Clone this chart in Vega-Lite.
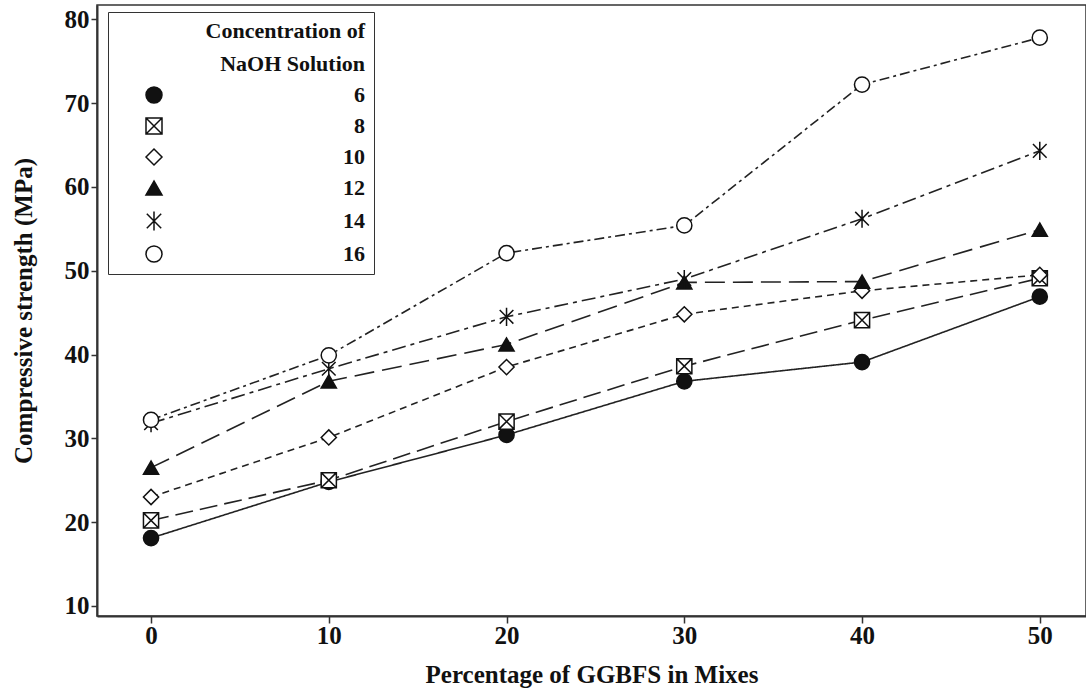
{
  "$schema": "https://vega.github.io/schema/vega-lite/v6.json",
  "autosize": "none",
  "padding": {"left": 97, "top": 5, "right": 0, "bottom": 77},
  "width": 989,
  "height": 611,
  "background": "white",
  "config": {
    "font": "Liberation Serif",
    "view": {"stroke": "#333", "strokeWidth": 1.5},
    "legend": {
      "orient": "none", "legendX": 11, "legendY": 7,
      "titleFont": "Liberation Serif", "titleFontWeight": "bold", "titleFontSize": 22, "titleColor": "#111",
      "titleAnchor": "end", "titleAlign": "right", "titleLineHeight": 33, "titlePadding": 8,
      "labelFont": "Liberation Serif", "labelFontWeight": "bold", "labelFontSize": 22, "labelColor": "#111",
      "labelAlign": "right", "labelOffset": 200,
      "symbolSize": 256, "symbolOffset": 26, "symbolStrokeWidth": 1.5,
      "rowPadding": 9, "padding": 9,
      "strokeColor": "#333", "fillColor": "white"
    }
  },
  "data": {
    "values": [
      {"pct": 0, "cs": 18.1, "c": "6"}, {"pct": 10, "cs": 24.8, "c": "6"}, {"pct": 20, "cs": 30.4, "c": "6"}, {"pct": 30, "cs": 36.8, "c": "6"}, {"pct": 40, "cs": 39.1, "c": "6"}, {"pct": 50, "cs": 46.9, "c": "6"},
      {"pct": 0, "cs": 20.2, "c": "8"}, {"pct": 10, "cs": 25.0, "c": "8"}, {"pct": 20, "cs": 32.0, "c": "8"}, {"pct": 30, "cs": 38.6, "c": "8"}, {"pct": 40, "cs": 44.1, "c": "8"}, {"pct": 50, "cs": 49.1, "c": "8"},
      {"pct": 0, "cs": 23.0, "c": "10"}, {"pct": 10, "cs": 30.1, "c": "10"}, {"pct": 20, "cs": 38.5, "c": "10"}, {"pct": 30, "cs": 44.8, "c": "10"}, {"pct": 40, "cs": 47.6, "c": "10"}, {"pct": 50, "cs": 49.5, "c": "10"},
      {"pct": 0, "cs": 26.5, "c": "12"}, {"pct": 10, "cs": 36.8, "c": "12"}, {"pct": 20, "cs": 41.2, "c": "12"}, {"pct": 30, "cs": 48.6, "c": "12"}, {"pct": 40, "cs": 48.7, "c": "12"}, {"pct": 50, "cs": 54.9, "c": "12"},
      {"pct": 0, "cs": 31.8, "c": "14"}, {"pct": 10, "cs": 38.3, "c": "14"}, {"pct": 20, "cs": 44.5, "c": "14"}, {"pct": 30, "cs": 49.0, "c": "14"}, {"pct": 40, "cs": 56.2, "c": "14"}, {"pct": 50, "cs": 64.3, "c": "14"},
      {"pct": 0, "cs": 32.2, "c": "16"}, {"pct": 10, "cs": 39.9, "c": "16"}, {"pct": 20, "cs": 52.1, "c": "16"}, {"pct": 30, "cs": 55.4, "c": "16"}, {"pct": 40, "cs": 72.2, "c": "16"}, {"pct": 50, "cs": 77.8, "c": "16"}
    ]
  },
  "encoding": {
    "x": {
      "field": "pct", "type": "quantitative",
      "scale": {"domain": [-3.04, 52.6], "nice": false, "zero": false},
      "axis": {
        "title": "Percentage of GGBFS in Mixes", "values": [0, 10, 20, 30, 40, 50],
        "grid": false, "domainColor": "#333", "domainWidth": 2, "tickColor": "#333", "tickWidth": 1.5, "tickSize": 7,
        "labelFont": "Liberation Serif", "labelFontWeight": "bold", "labelFontSize": 25, "labelColor": "#111", "labelPadding": 0,
        "titleFont": "Liberation Serif", "titleFontWeight": "bold", "titleFontSize": 25, "titleColor": "#111", "titlePadding": 14
      }
    },
    "y": {
      "field": "cs", "type": "quantitative",
      "scale": {"domain": [8.8, 81.7], "nice": false, "zero": false},
      "axis": {
        "title": "Compressive strength (MPa)", "values": [10, 20, 30, 40, 50, 60, 70, 80],
        "grid": false, "domainColor": "#333", "domainWidth": 2, "tickColor": "#333", "tickWidth": 1.5, "tickSize": 6,
        "labelFont": "Liberation Serif", "labelFontWeight": "bold", "labelFontSize": 25, "labelColor": "#111", "labelPadding": 2,
        "titleFont": "Liberation Serif", "titleFontWeight": "bold", "titleFontSize": 25, "titleColor": "#111", "titlePadding": 28
      }
    }
  },
  "layer": [
    {
      "mark": {"type": "line", "strokeWidth": 1.6, "color": "#222"},
      "encoding": {
        "strokeDash": {
          "field": "c", "type": "nominal",
          "scale": {"domain": ["16", "14", "12", "10", "8", "6"], "range": [[10, 4, 3, 4], [14, 5, 4, 5], [20, 8], [7, 5], [18, 7], [1, 0]]},
          "legend": null
        }
      }
    },
    {
      "mark": {"type": "point", "filled": true, "stroke": "#111", "strokeWidth": 1.5, "opacity": 1, "size": 230},
      "encoding": {
        "fill": {
          "field": "c", "type": "nominal",
          "scale": {"domain": ["6", "8", "10", "12", "14", "16"], "range": ["#111", "white", "white", "#111", "white", "white"]},
          "legend": {
            "title": ["Concentration of", "NaOH Solution"],
            "encode": {"symbols": {"stroke": {"value": "#111"}, "strokeWidth": {"value": 1.5}}}
          }
        },
        "shape": {
          "field": "c", "type": "nominal",
          "scale": {"domain": ["6", "8", "10", "12", "14", "16"], "range": ["circle", "M-1,-1H1V1H-1ZM-1,-1L1,1M1,-1L-1,1", "diamond", "triangle-up", "M-0.9,-0.9L0.9,0.9M0.9,-0.9L-0.9,0.9M0,-1.2V1.2", "circle"]},
          "legend": {
            "title": ["Concentration of", "NaOH Solution"],
            "encode": {"symbols": {"stroke": {"value": "#111"}, "strokeWidth": {"value": 1.5}}}
          }
        }
      }
    }
  ]
}
